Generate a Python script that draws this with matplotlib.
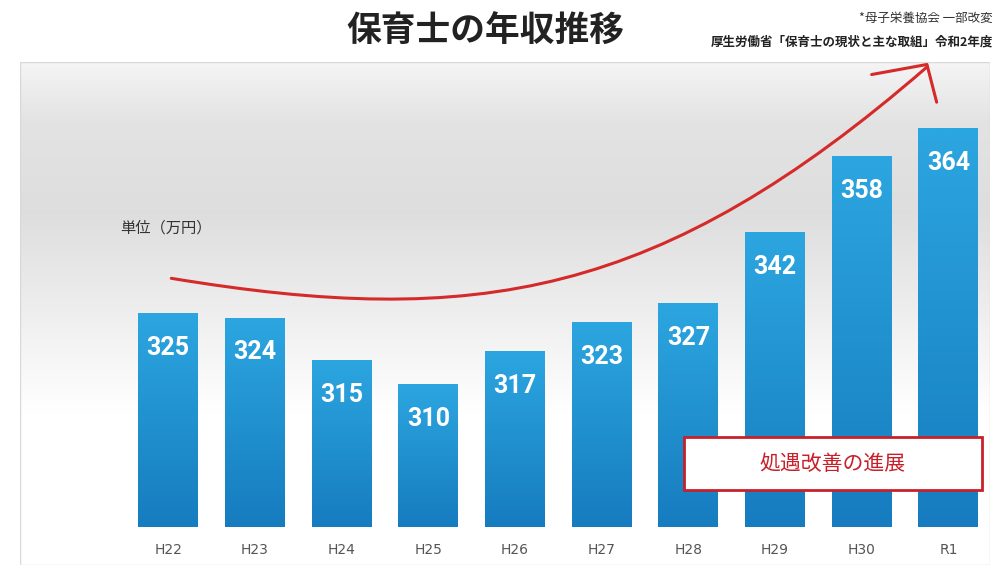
import numpy as np
import matplotlib.pyplot as plt
from matplotlib.patches import FancyArrowPatch, Rectangle
from matplotlib.path import Path

plt.rcParams['font.family'] = 'Noto Sans CJK JP'

years = ['H22', 'H23', 'H24', 'H25', 'H26', 'H27', 'H28', 'H29', 'H30', 'R1']
salary = [325, 324, 315, 310, 317, 323, 327, 342, 358, 364]
base = 280

fig = plt.figure(figsize=(10, 5.79), dpi=100)
ax = fig.add_axes([0.02, 0.024, 0.97, 0.869])
ax.set_xlim(-1.71, 9.48)
ax.set_ylim(272, 378)
ax.axis('off')

# background gradient (white at bottom, gray in upper middle, lighter at top)
grad = np.linspace(0, 1, 256).reshape(-1, 1)
bg = np.interp(grad, [0, 0.3, 0.7, 0.88, 1], [1.0, 1.0, 0.87, 0.89, 0.96])
ax.imshow(np.dstack([bg, bg, bg]), extent=[-1.71, 9.48, 272, 378], aspect='auto',
          origin='lower', zorder=0)
ax.add_patch(Rectangle((0, 0), 1, 1, transform=ax.transAxes, fill=False,
                       ec='#d8d8d8', lw=1, zorder=1))

# bars with vertical gradient
top_c = np.array([0x2c, 0xa6, 0xe0]) / 255
bot_c = np.array([0x16, 0x7c, 0xbf]) / 255
t = np.linspace(0, 1, 256).reshape(-1, 1, 1)
bar_img = bot_c * (1 - t) + top_c * t
w = 0.69
for i, v in enumerate(salary):
    ax.imshow(bar_img, extent=[i - w / 2, i + w / 2, base, v], aspect='auto',
              origin='lower', zorder=2)
    ax.text(i, v - 7.2, str(v), color='white', fontsize=18, fontweight='bold',
            ha='center', va='center', family='Roboto', zorder=3)
    ax.text(i, 275.1, years[i], color='#555555', fontsize=10, ha='center',
            va='center', family='DejaVu Sans', zorder=3)

# red trend arrow (axes fraction)
verts = [(0.156, 0.570), (0.47, 0.47), (0.66, 0.53), (0.935, 0.99)]
path = Path(verts, [Path.MOVETO, Path.CURVE4, Path.CURVE4, Path.CURVE4])
ax.add_patch(FancyArrowPatch(path=path, arrowstyle='-', color='#d42a2a', lw=2.2,
                             transform=ax.transAxes, zorder=4))
ax.plot([0.878, 0.935, 0.945], [0.975, 0.995, 0.92], color='#d42a2a', lw=2.2,
        transform=ax.transAxes, zorder=4, solid_capstyle='round')

ax.text(0.103, 0.67, '単位（万円）', fontsize=11, color='#333333',
        transform=ax.transAxes, va='center')

ax.add_patch(Rectangle((0.685, 0.149), 0.307, 0.105, transform=ax.transAxes,
                       fill=True, fc='white', ec='#c8202a', lw=2, zorder=5))
ax.text(0.838, 0.201, '処遇改善の進展', fontsize=15, color='#c8202a',
        transform=ax.transAxes, ha='center', va='center', zorder=6)

fig.text(0.485, 0.945, '保育士の年収推移', fontsize=25, fontweight='bold',
         ha='center', va='center', color='#222222')
fig.text(0.993, 0.968, '*母子栄養協会 一部改変', fontsize=9, ha='right',
         va='center', color='#333333')
fig.text(0.993, 0.928, '厚生労働省「保育士の現状と主な取組」令和2年度', fontsize=9,
         fontweight='bold', ha='right', va='center', color='#222222')

fig.savefig('out.png', dpi=100)
